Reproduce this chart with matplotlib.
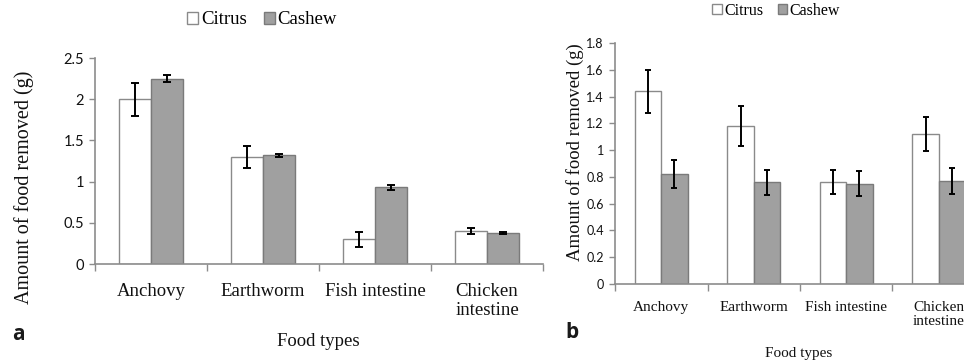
import matplotlib.pyplot as plt
import numpy as np

categories = ["Anchovy", "Earthworm", "Fish intestine", "Chicken\nintestine"]
series = ["Citrus", "Cashew"]

# panel a
citrus_a = [2.0, 1.30, 0.30, 0.40]
citrus_a_err = [0.20, 0.13, 0.09, 0.04]
cashew_a = [2.25, 1.32, 0.93, 0.38]
cashew_a_err = [0.04, 0.02, 0.03, 0.01]
yticks_a = [0, 0.5, 1, 1.5, 2, 2.5]
yticklabels_a = ["0", "0.5", "1", "1.5", "2", "2.5"]

# panel b
citrus_b = [1.44, 1.18, 0.76, 1.12]
citrus_b_err = [0.16, 0.15, 0.09, 0.13]
cashew_b = [0.82, 0.76, 0.75, 0.77]
cashew_b_err = [0.105, 0.095, 0.095, 0.10]
yticks_b = [0, 0.2, 0.4, 0.6, 0.8, 1.0, 1.2, 1.4, 1.6, 1.8]
yticklabels_b = ["0", "0.2", "0.4", "0.6", "0.8", "1", "1.2", "1.4", "1.6", "1.8"]

SERIF = "Liberation Serif"
SANS = "Lato"
AXIS = "#8c8c8c"
EDGE = "#8a8a8a"
GREY = "#a0a0a0"
TXT = "#111111"


def panel(ax, citrus, citrus_err, cashew, cashew_err, yticks, yticklabels,
          tick_fs, cat_fs, cap, pad):
    x = np.arange(len(categories)) + 0.5
    w = 0.286
    ax.bar(x - w / 2, citrus, w, color="white", edgecolor=EDGE, linewidth=1.0,
           label=series[0], zorder=2)
    ax.bar(x + w / 2, cashew, w, color=GREY, edgecolor="#7a7a7a", linewidth=1.0,
           label=series[1], zorder=2)
    ax.errorbar(x - w / 2, citrus, yerr=citrus_err, fmt="none", ecolor="black",
                elinewidth=1.4, capsize=cap, capthick=1.4, zorder=3)
    ax.errorbar(x + w / 2, cashew, yerr=cashew_err, fmt="none", ecolor="black",
                elinewidth=1.4, capsize=cap, capthick=1.4, zorder=3)
    ax.set_xlim(0, len(categories))
    ax.set_ylim(yticks[0], yticks[-1])
    ax.set_yticks(yticks)
    ax.set_yticklabels(yticklabels, fontfamily=SANS, fontsize=tick_fs, color=TXT)
    ax.set_xticks(np.arange(len(categories) + 1))
    ax.set_xticklabels([])
    ax.set_xticks(x, minor=True)
    ax.set_xticklabels(categories, minor=True, fontfamily=SERIF, fontsize=cat_fs,
                       color=TXT, va="top", linespacing=1.1)
    ax.tick_params(axis="x", which="major", direction="out", length=5, color=AXIS, width=1)
    ax.tick_params(axis="x", which="minor", length=0, pad=pad)
    ax.tick_params(axis="y", direction="out", length=4, color=AXIS, width=1, pad=4)
    for s in ["top", "right"]:
        ax.spines[s].set_visible(False)
    for s in ["left", "bottom"]:
        ax.spines[s].set_color(AXIS)
        ax.spines[s].set_linewidth(1.2)
    ax.patch.set_alpha(0)


fig = plt.figure(figsize=(9.64, 3.64), dpi=100)

ax_a = fig.add_axes([95 / 964, 100 / 364, 448 / 964, 206 / 364])
panel(ax_a, citrus_a, citrus_a_err, cashew_a, cashew_a_err, yticks_a, yticklabels_a,
      tick_fs=10.5, cat_fs=13.5, cap=3, pad=14)

ax_b = fig.add_axes([615 / 964, 80 / 364, 370 / 964, 241 / 364])
panel(ax_b, citrus_b, citrus_b_err, cashew_b, cashew_b_err, yticks_b, yticklabels_b,
      tick_fs=9, cat_fs=11, cap=2.5, pad=12)

# legends
h, l = ax_a.get_legend_handles_labels()
fig.legend(h, l, loc="center", bbox_to_anchor=(262 / 964, 1 - 20 / 364), ncol=2,
           frameon=False, handlelength=0.6, handleheight=0.6, handletextpad=0.15,
           columnspacing=0.9, prop={"family": SERIF, "size": 13.5})
h, l = ax_b.get_legend_handles_labels()
fig.legend(h, l, loc="center", bbox_to_anchor=(776 / 964, 1 - 11 / 364), ncol=2,
           frameon=False, handlelength=0.6, handleheight=0.6, handletextpad=0.15,
           columnspacing=0.9, prop={"family": SERIF, "size": 11.5})

# axis titles
fig.text(24 / 964, 1 - 187 / 364, "Amount of food removed (g)", rotation=90,
         ha="center", va="center", fontfamily=SERIF, fontsize=14.5, color=TXT)
fig.text(318 / 964, 1 - 342 / 364, "Food types", ha="center", va="center",
         fontfamily=SERIF, fontsize=13.5, color=TXT)
fig.text(575 / 964, 1 - 152 / 364, "Amount of food removed (g)", rotation=90,
         ha="center", va="center", fontfamily=SERIF, fontsize=13.5, color=TXT)
fig.text(799 / 964, 1 - 353 / 364, "Food types", ha="center", va="center",
         fontfamily=SERIF, fontsize=11, color=TXT)

# panel letters
fig.text(12 / 964, 1 - 335 / 364, "a", ha="left", va="center", fontfamily="Open Sans",
         fontweight="bold", fontsize=15, color="#1a1a1a")
fig.text(565 / 964, 1 - 332 / 364, "b", ha="left", va="center", fontfamily="Open Sans",
         fontweight="bold", fontsize=15, color="#1a1a1a")

fig.savefig("out.png", dpi=100)
